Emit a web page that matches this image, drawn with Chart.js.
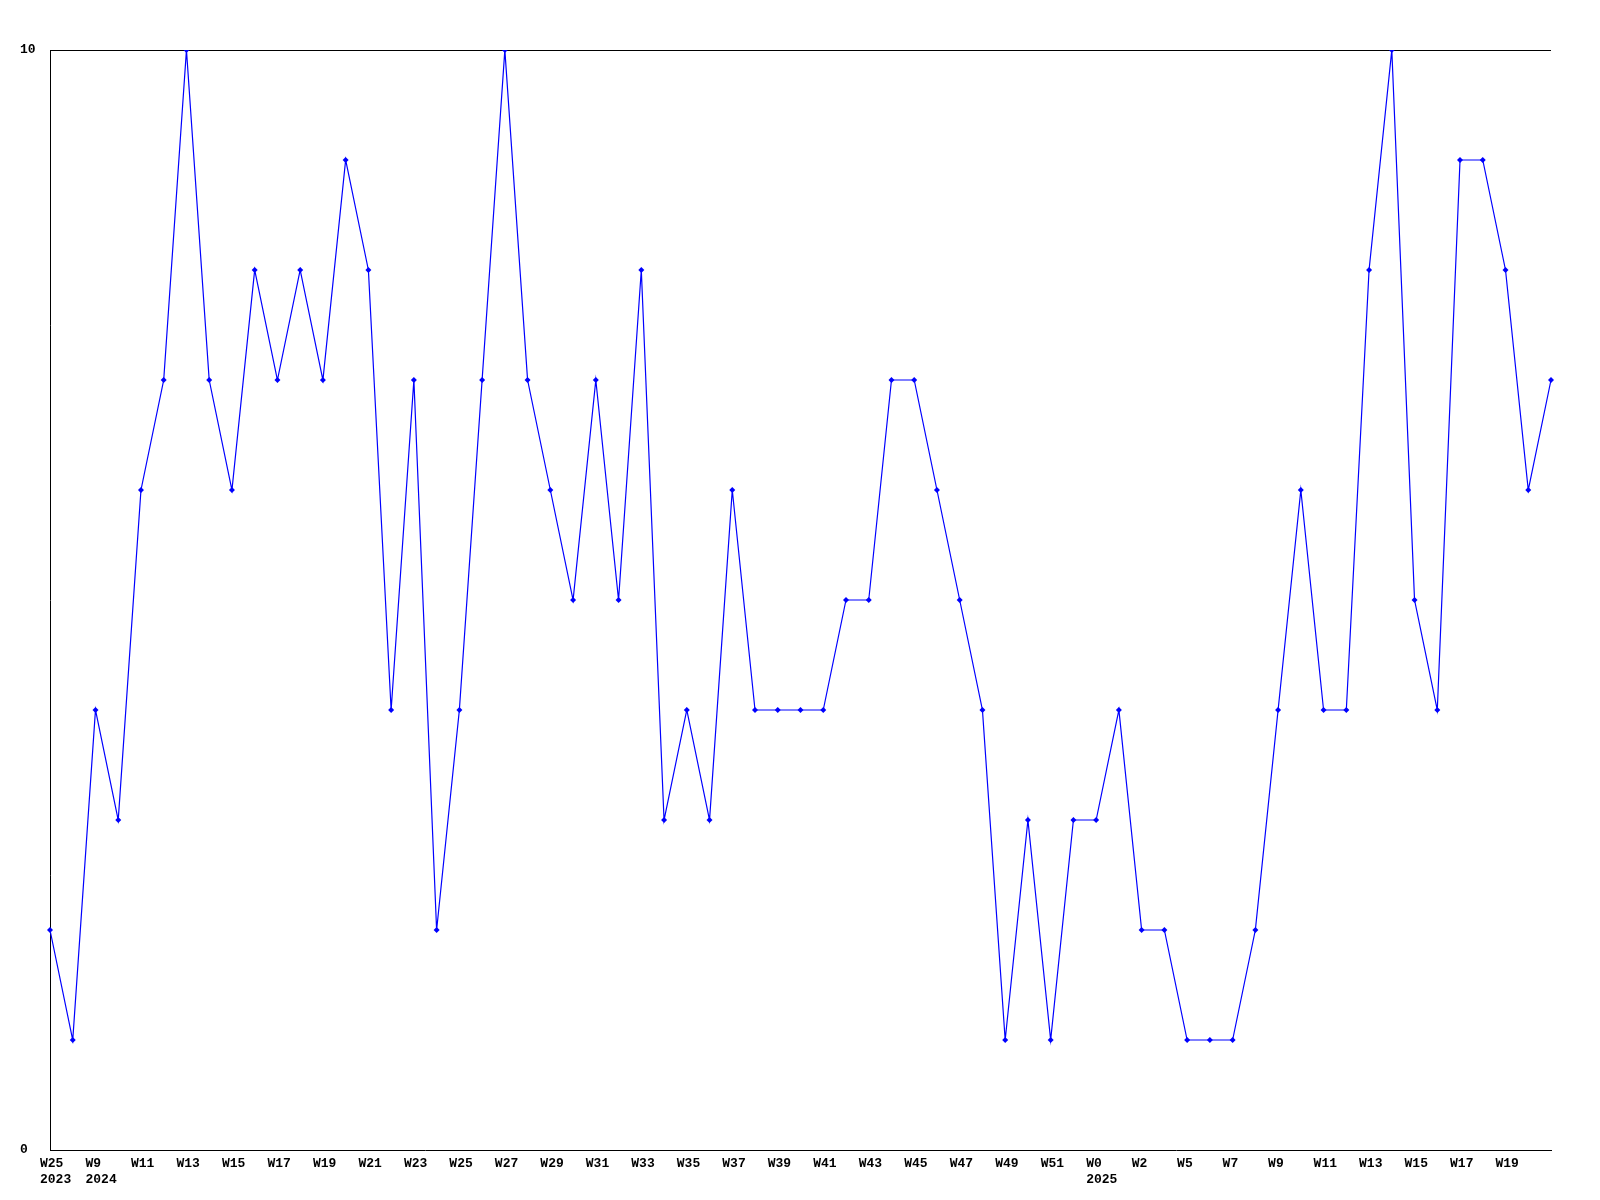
<!DOCTYPE html>
<html>
<head>
<meta charset="utf-8">
<script src="https://cdn.jsdelivr.net/npm/chart.js@4/dist/chart.umd.min.js"></script>
<style>
html,body{margin:0;padding:0;background:#fff;}
#wrap{width:1600px;height:1200px;}
</style>
</head>
<body>
<div id="wrap"><canvas id="c" width="1600" height="1200"></canvas></div>
<script>
const weeks = ["W25","W8","W9","W10","W11","W12","W13","W14","W15","W16","W17","W18","W19","W20","W21","W22","W23","W24","W25","W26","W27","W28","W29","W30","W31","W32","W33","W34","W35","W36","W37","W38","W39","W40","W41","W42","W43","W44","W45","W46","W47","W48","W49","W50","W51","W52","W0","W1","W2","W4","W5","W6","W7","W8","W9","W10","W11","W12","W13","W14","W15","W16","W17","W18","W19","W20","W21"];
const yearMarks = {0:"2023", 2:"2024", 46:"2025"};
const values = [2,1,4,3,6,7,10,7,6,8,7,8,7,9,8,4,7,2,4,7,10,7,6,5,7,5,8,3,4,3,6,4,4,4,4,5,5,7,7,6,5,4,1,3,1,3,3,4,2,2,1,1,1,2,4,6,4,4,8,10,5,4,9,9,8,6,7];
const yTicks = [0,10];

const labels = weeks.map((w,i)=> yearMarks[i] ? [w, yearMarks[i]] : w);
const font = {family:"'Liberation Mono','DejaVu Sans Mono',monospace", size:13, weight:'bold'};

new Chart(document.getElementById('c'), {
  type:'line',
  data:{labels, datasets:[{
    data:values,
    borderColor:'#0000ff',
    backgroundColor:'#0000ff',
    borderWidth:1.2,
    pointStyle:'rectRot',
    pointRadius:3,
    pointBorderWidth:0,
    tension:0,
    fill:false
  }]},
  options:{
    responsive:false,
    animation:false,
    devicePixelRatio:1,
    layout:{padding:{left:20,top:50,right:49,bottom:0}},
    plugins:{legend:{display:false},tooltip:{enabled:false}},
    scales:{
      x:{
        type:'category',
        offset:false,
        afterFit:(s)=>{s.height=50;},
        grid:{display:false, drawTicks:false},
        border:{display:true,color:'#000',width:1},
        ticks:{
          autoSkip:false,
          maxRotation:0,
          minRotation:0,
          padding:6,
          align:'start',
          labelOffset:-10,
          color:'#000',
          font,
          callback:function(v,i){ return (i%2===0 && i<labels.length-1) ? labels[i] : ''; }
        }
      },
      y:{
        min:0,max:10,
        afterFit:(s)=>{s.width=30;},
        afterBuildTicks:(s)=>{s.ticks = yTicks.map(v=>({value:v}));},
        grid:{drawTicks:false, color:(ctx)=> ctx.tick && ctx.tick.value===10 ? '#000' : 'rgba(0,0,0,0)', lineWidth:1},
        border:{display:true,color:'#000',width:1},
        ticks:{crossAlign:'far', padding:0, color:'#000', font}
      }
    }
  }
});
</script>
</body>
</html>
